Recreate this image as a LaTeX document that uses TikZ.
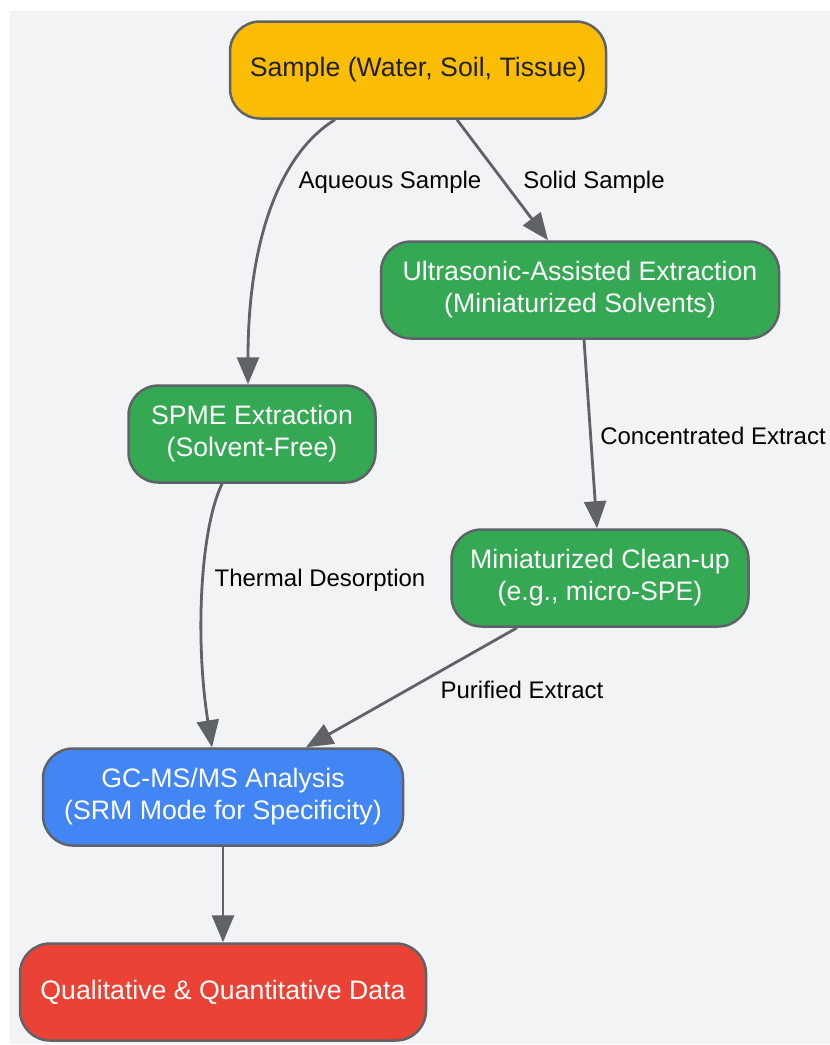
\documentclass[tikz,border=0pt]{standalone}
\usepackage{fontspec}
\setmainfont{Liberation Sans}
\usepackage{xcolor}
\usepackage{tikz}
\usetikzlibrary{positioning,calc,arrows.meta}
\definecolor{BgGray}{HTML}{F1F3F4}
\definecolor{EdgeGray}{HTML}{5F6368}
\definecolor{GYellow}{HTML}{FBBC04}
\definecolor{GGreen}{HTML}{34A853}
\definecolor{GBlue}{HTML}{4285F4}
\definecolor{GRed}{HTML}{EA4335}
\definecolor{InkDark}{HTML}{202124}
\tikzset{
    stepnode/.style={rectangle, rounded corners=30pt, draw=EdgeGray, line width=2.5pt, minimum height=97pt, inner sep=0pt, align=center, text=white, font=\fontsize{26.7}{32}\selectfont},
    flowarrow/.style={draw=EdgeGray, line width=2.8pt, -{Triangle[length=27pt, width=22pt]}},
    edgelabel/.style={inner sep=0pt, text=black, font=\fontsize{24}{28}\selectfont}
}

\begin{document}
\begin{tikzpicture}[x=1pt, y=-1pt]

        % --- NỀN ---
        \useasboundingbox (0,0) rectangle (830,1045);
        \fill[BgGray] (10,11) rectangle (830,1044);

        % --- CÁC BƯỚC ---
        \node[stepnode, fill=GYellow, text=InkDark, minimum width=376pt] (sample) at (418,70) {Sample (Water, Soil, Tissue)};
        \node[stepnode, fill=GGreen, minimum width=398pt] (ultra) at (580,290) {Ultrasonic-Assisted Extraction\\(Miniaturized Solvents)};
        \node[stepnode, fill=GGreen, minimum width=247pt] (spme) at (252,434) {SPME Extraction\\(Solvent-Free)};
        \node[stepnode, fill=GGreen, minimum width=297pt] (clean) at (600,578) {Miniaturized Clean-up\\(e.g., micro-SPE)};
        \node[stepnode, fill=GBlue, minimum width=360pt] (gcms) at (223,797) {GC-MS/MS Analysis\\(SRM Mode for Specificity)};
        \node[stepnode, fill=GRed, minimum width=406pt] (data) at (223,992) {Qualitative \& Quantitative Data};

        % --- MŨI TÊN ---
        \draw[flowarrow] ($(sample.south)+(-83,0)$) .. controls (285,150) and (248,230) .. ($(spme.north)+(-4,0)$);
        \draw[flowarrow] ($(sample.south)+(39,0)$) -- ($(ultra.north)+(-32,0)$);
        \draw[flowarrow] ($(ultra.south)+(4,0)$) -- ($(clean.north)+(-3,0)$);
        \draw[flowarrow] ($(spme.south)+(-30,0)$) .. controls (200,530) and (195,640) .. ($(gcms.north)+(-11,0)$);
        \draw[flowarrow] ($(clean.south)+(-83,0)$) -- ($(gcms.north)+(83,0)$);
        \draw[flowarrow] (gcms.south) -- (data.north);

        % --- NHÃN ---
        \node[edgelabel] (lblAqueous) at (390,182) {Aqueous Sample};
        \node[edgelabel] (lblSolid) at (594,182) {Solid Sample};
        \node[edgelabel] (lblConc) at (713,436) {Concentrated Extract};
        \node[edgelabel] (lblThermal) at (320,580) {Thermal Desorption};
        \node[edgelabel] (lblPurified) at (522,690) {Purified Extract};

    \end{tikzpicture}
\end{document}
